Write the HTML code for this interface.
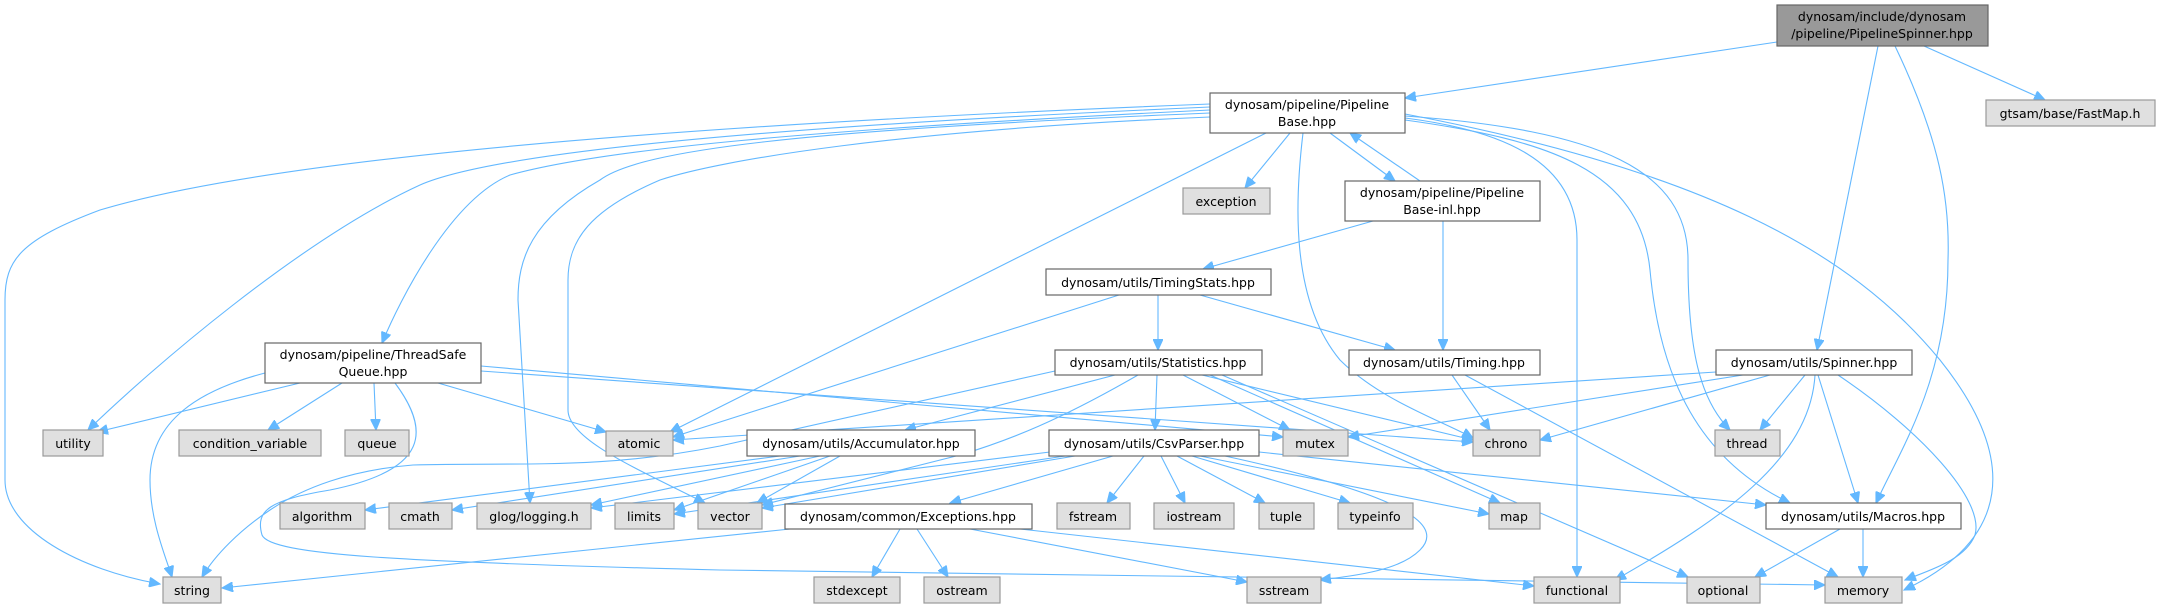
<!DOCTYPE html>
<html><head><meta charset="utf-8"><style>
html,body{margin:0;padding:0;background:#fff;}
svg{display:block;}
text{font-family:"DejaVu Sans","Liberation Sans",sans-serif;font-size:12.5px;fill:#000;}
.n{fill:#fff;stroke:#666;stroke-width:1.2;}
.g{fill:#e0e0e0;stroke:#999;stroke-width:1.2;}
.r{fill:#999;stroke:#666;stroke-width:1.2;}
path,line{stroke:#63b8ff;stroke-width:1.1;fill:none;}
</style></head><body>
<svg width="2160" height="608" viewBox="0 0 2160 608" xmlns="http://www.w3.org/2000/svg">
<defs><marker id="a" markerUnits="userSpaceOnUse" markerWidth="12" markerHeight="10" refX="11" refY="5" orient="auto"><path d="M0,0 L11,5 L0,10 Z" style="fill:#63b8ff;stroke:#63b8ff"/></marker></defs>
<g marker-end="url(#a)">
<!-- PipelineSpinner -->
<path d="M1777,42 L1405,98"/>
<path d="M1878,46 L1817,350"/>
<path d="M1895,46 C1940,140 1950,200 1948,260 C1948,380 1900,450 1876,503"/>
<path d="M1924,46 L2045,100"/>
<!-- PipelineBase -->
<path d="M1210,104 C800,120 300,150 100,210 C20,240 5,260 5,300 L5,480 C5,530 80,570 160,584"/>
<path d="M1210,107 C800,125 500,150 420,185 C300,240 150,370 88,430"/>
<path d="M1210,110 C800,130 600,150 510,175 C450,200 400,300 382,343"/>
<path d="M1210,113 C800,130 640,150 600,180 C530,220 518,260 518,300 L530,503"/>
<path d="M1210,117 C900,130 720,160 660,180 C590,210 568,240 568,280 L568,410 C568,440 640,470 705,503"/>
<path d="M1266,133 L670,432"/>
<path d="M1290,133 L1245,188"/>
<path d="M1303,133 C1295,200 1290,300 1340,360 C1380,400 1440,420 1473,438"/>
<path d="M1330,133 L1395,181"/>
<path d="M1420,181 L1350,133"/>
<path d="M1405,118 C1500,130 1577,160 1577,240 L1577,577"/>
<path d="M1405,120 C1550,140 1640,170 1650,270 C1660,380 1700,460 1790,503"/>
<path d="M1405,116 C1600,130 1688,170 1688,260 C1688,350 1700,400 1730,430"/>
<path d="M1405,114 C1700,170 1850,250 1940,360 C2020,460 2010,540 1904,590"/>
<!-- ThreadSafeQueue -->
<path d="M265,373 C200,390 150,420 150,480 C150,520 165,555 172,577"/>
<path d="M300,383 L97,432"/>
<path d="M342,383 L268,430"/>
<path d="M374,383 L376,430"/>
<path d="M438,383 L606,432"/>
<path d="M481,366 L1283,437"/>
<path d="M481,371 L1473,442"/>
<path d="M395,383 C430,430 430,470 330,490 C270,500 255,510 262,535 C270,555 400,562 720,570 L1825,585"/>
<!-- TimingStats -->
<path d="M1158,295 L1158,350"/>
<path d="M1200,295 L1395,350"/>
<path d="M1119,295 L673,437"/>
<!-- PipelineBase-inl -->
<path d="M1373,221 L1203,269"/>
<path d="M1443,221 L1443,350"/>
<!-- Timing -->
<path d="M1452,375 L1490,430"/>
<path d="M1465,375 L1838,577"/>
<!-- Statistics -->
<path d="M1055,371 L720,446 C600,470 520,462 413,465 C350,470 303,488 270,510 C240,530 215,555 202,577"/>
<path d="M1115,375 L905,430"/>
<path d="M1157,375 L1155,430"/>
<path d="M1183,375 L1290,430"/>
<path d="M1138,375 C1060,420 1010,440 960,455 L762,505"/>
<path d="M1202,375 L1473,440"/>
<path d="M1210,375 L1500,503"/>
<path d="M1222,375 L1688,577"/>
<!-- Spinner -->
<path d="M1716,372 L673,440"/>
<path d="M1743,375 L1348,437"/>
<path d="M1770,375 L1540,440"/>
<path d="M1805,375 L1760,430"/>
<path d="M1815,375 C1810,460 1720,520 1615,580"/>
<path d="M1818,375 L1858,503"/>
<path d="M1838,375 C1920,430 1985,500 1975,535 C1965,560 1930,570 1905,580"/>
<!-- Macros -->
<path d="M1840,529 L1755,577"/>
<path d="M1863,529 L1863,577"/>
<!-- Accumulator -->
<path d="M780,456 L365,510"/>
<path d="M800,456 L452,510"/>
<path d="M820,456 L591,505"/>
<path d="M830,456 L674,510"/>
<path d="M840,456 L757,503"/>
<!-- CsvParser -->
<path d="M1050,452 L591,508"/>
<path d="M1065,456 L674,514"/>
<path d="M1075,456 L762,508"/>
<path d="M1113,456 L950,503"/>
<path d="M1144,456 L1107,503"/>
<path d="M1161,456 L1185,503"/>
<path d="M1177,456 L1265,503"/>
<path d="M1192,456 L1350,503"/>
<path d="M1200,456 L1489,514"/>
<path d="M1259,452 L1766,505"/>
<path d="M1225,456 C1380,490 1450,520 1420,550 C1400,570 1360,575 1320,580"/>
<!-- Exceptions -->
<path d="M790,529 L222,588"/>
<path d="M900,529 L872,577"/>
<path d="M917,529 L948,577"/>
<path d="M970,529 L1247,582"/>
<path d="M1020,529 L1534,586"/>
</g>
<!-- nodes -->
<rect class="r" x="1777" y="5" width="211" height="41"/>
<text x="1882" y="21" text-anchor="middle">dynosam/include/dynosam</text>
<text x="1882" y="38" text-anchor="middle">/pipeline/PipelineSpinner.hpp</text>
<rect class="g" x="1986" y="100" width="169" height="26"/><text x="2070" y="118" text-anchor="middle">gtsam/base/FastMap.h</text>
<rect class="n" x="1210" y="93" width="195" height="40"/>
<text x="1307" y="109" text-anchor="middle">dynosam/pipeline/Pipeline</text>
<text x="1307" y="126" text-anchor="middle">Base.hpp</text>
<rect class="g" x="1183" y="188" width="87" height="26"/><text x="1226" y="206" text-anchor="middle">exception</text>
<rect class="n" x="1345" y="181" width="195" height="40"/>
<text x="1442" y="197" text-anchor="middle">dynosam/pipeline/Pipeline</text>
<text x="1442" y="214" text-anchor="middle">Base-inl.hpp</text>
<rect class="n" x="1046" y="269" width="225" height="26"/><text x="1158" y="287" text-anchor="middle">dynosam/utils/TimingStats.hpp</text>
<rect class="n" x="265" y="343" width="216" height="40"/>
<text x="373" y="359" text-anchor="middle">dynosam/pipeline/ThreadSafe</text>
<text x="373" y="376" text-anchor="middle">Queue.hpp</text>
<rect class="n" x="1055" y="350" width="207" height="25"/><text x="1158" y="367" text-anchor="middle">dynosam/utils/Statistics.hpp</text>
<rect class="n" x="1349" y="350" width="191" height="25"/><text x="1444" y="367" text-anchor="middle">dynosam/utils/Timing.hpp</text>
<rect class="n" x="1716" y="350" width="196" height="25"/><text x="1814" y="367" text-anchor="middle">dynosam/utils/Spinner.hpp</text>
<rect class="g" x="43" y="430" width="60" height="26"/><text x="73" y="448" text-anchor="middle">utility</text>
<rect class="g" x="179" y="430" width="142" height="26"/><text x="250" y="448" text-anchor="middle">condition_variable</text>
<rect class="g" x="345" y="430" width="64" height="26"/><text x="377" y="448" text-anchor="middle">queue</text>
<rect class="g" x="606" y="431" width="67" height="25"/><text x="639" y="448" text-anchor="middle">atomic</text>
<rect class="n" x="747" y="430" width="228" height="26"/><text x="861" y="448" text-anchor="middle">dynosam/utils/Accumulator.hpp</text>
<rect class="n" x="1049" y="430" width="210" height="26"/><text x="1154" y="448" text-anchor="middle">dynosam/utils/CsvParser.hpp</text>
<rect class="g" x="1283" y="430" width="65" height="26"/><text x="1315" y="448" text-anchor="middle">mutex</text>
<rect class="g" x="1473" y="430" width="67" height="26"/><text x="1506" y="448" text-anchor="middle">chrono</text>
<rect class="g" x="1715" y="430" width="65" height="26"/><text x="1747" y="448" text-anchor="middle">thread</text>
<rect class="g" x="280" y="503" width="85" height="26"/><text x="322" y="521" text-anchor="middle">algorithm</text>
<rect class="g" x="389" y="503" width="63" height="26"/><text x="420" y="521" text-anchor="middle">cmath</text>
<rect class="g" x="477" y="503" width="114" height="26"/><text x="534" y="521" text-anchor="middle">glog/logging.h</text>
<rect class="g" x="615" y="503" width="59" height="26"/><text x="644" y="521" text-anchor="middle">limits</text>
<rect class="g" x="698" y="503" width="64" height="26"/><text x="730" y="521" text-anchor="middle">vector</text>
<rect class="n" x="785" y="504" width="247" height="25"/><text x="908" y="521" text-anchor="middle">dynosam/common/Exceptions.hpp</text>
<rect class="g" x="1057" y="503" width="73" height="26"/><text x="1093" y="521" text-anchor="middle">fstream</text>
<rect class="g" x="1154" y="503" width="80" height="26"/><text x="1194" y="521" text-anchor="middle">iostream</text>
<rect class="g" x="1259" y="503" width="55" height="26"/><text x="1286" y="521" text-anchor="middle">tuple</text>
<rect class="g" x="1338" y="503" width="75" height="26"/><text x="1375" y="521" text-anchor="middle">typeinfo</text>
<rect class="g" x="1489" y="503" width="51" height="26"/><text x="1514" y="521" text-anchor="middle">map</text>
<rect class="n" x="1766" y="503" width="195" height="26"/><text x="1863" y="521" text-anchor="middle">dynosam/utils/Macros.hpp</text>
<rect class="g" x="163" y="577" width="58" height="26"/><text x="192" y="595" text-anchor="middle">string</text>
<rect class="g" x="814" y="577" width="86" height="26"/><text x="857" y="595" text-anchor="middle">stdexcept</text>
<rect class="g" x="924" y="577" width="76" height="26"/><text x="962" y="595" text-anchor="middle">ostream</text>
<rect class="g" x="1247" y="577" width="74" height="26"/><text x="1284" y="595" text-anchor="middle">sstream</text>
<rect class="g" x="1534" y="577" width="86" height="26"/><text x="1577" y="595" text-anchor="middle">functional</text>
<rect class="g" x="1687" y="577" width="73" height="26"/><text x="1723" y="595" text-anchor="middle">optional</text>
<rect class="g" x="1825" y="577" width="77" height="26"/><text x="1863" y="595" text-anchor="middle">memory</text>
</svg>
</body></html>
